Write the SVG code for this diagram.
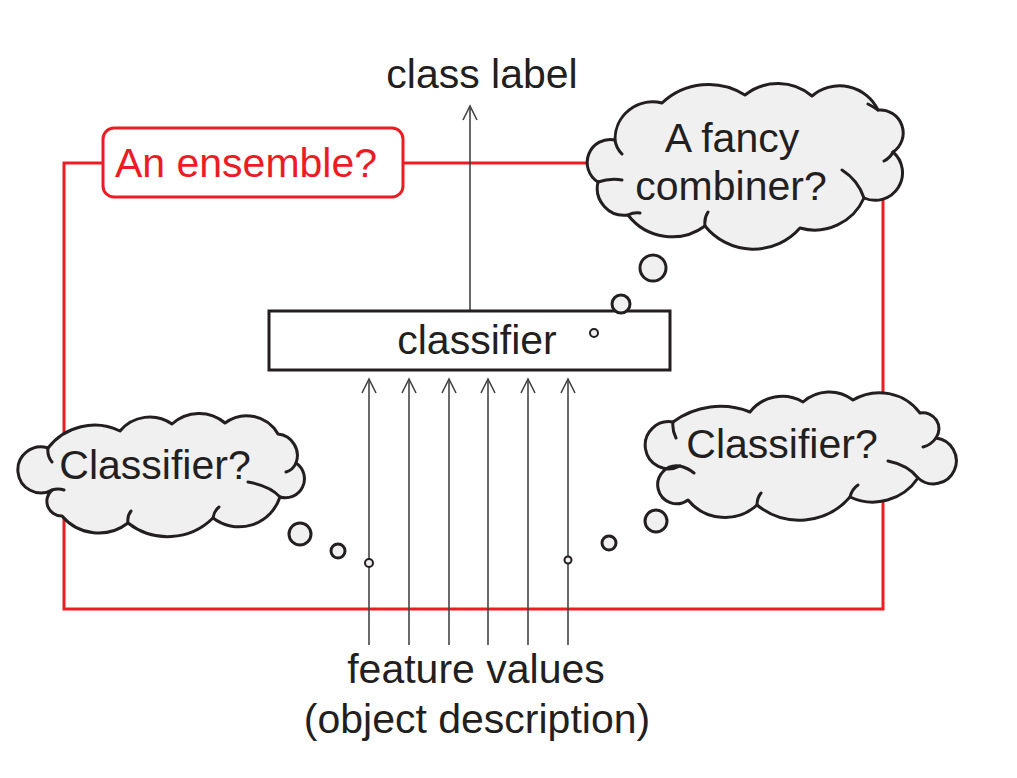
<svg xmlns="http://www.w3.org/2000/svg" width="1017" height="778" viewBox="0 0 1017 778">
<style>
text{font-family:"Liberation Sans",Arial,Helvetica,sans-serif;font-size:41px;fill:#231f20;text-anchor:middle}
.red{fill:none;stroke:#ed1c24;stroke-width:3}
.cloud{fill:#f0f0f0;stroke:#231f20;stroke-width:3;stroke-linejoin:round}
.curl{fill:none;stroke:#231f20;stroke-width:3;stroke-linecap:round}
.bub{fill:#f0f0f0;stroke:#231f20;stroke-width:3}
.bubs{fill:#f0f0f0;stroke:#231f20;stroke-width:2}
.arrow{stroke:#444;stroke-width:1.6;fill:none;marker-end:url(#arr)}
</style>
<defs>
<marker id="arr" markerUnits="userSpaceOnUse" orient="auto" refX="0" refY="0" markerWidth="20" markerHeight="20" overflow="visible">
<path d="M-14,-7 L0,0 L-14,7" fill="none" stroke="#444" stroke-width="1.6"/>
</marker>
</defs>
<rect width="1017" height="778" fill="#ffffff"/>

<g id="ensemble-frame">
<rect class="red" x="64" y="163" width="819" height="446"/>
</g>

<g id="connectors">
<line class="arrow" x1="470" y1="310" x2="470" y2="106"/>
<line class="arrow" x1="369" y1="645" x2="369" y2="379"/>
<line class="arrow" x1="409" y1="645" x2="409" y2="379"/>
<line class="arrow" x1="449" y1="645" x2="449" y2="379"/>
<line class="arrow" x1="488" y1="645" x2="488" y2="379"/>
<line class="arrow" x1="528" y1="645" x2="528" y2="379"/>
<line class="arrow" x1="568" y1="645" x2="568" y2="379"/>
</g>

<g id="ensemble-label">
<rect x="103" y="128" width="300" height="69" rx="11" fill="#ffffff" stroke="#ed1c24" stroke-width="3"/>
<text x="246" y="177" style="fill:#ed1c24">An ensemble?</text>
</g>

<g id="class-label">
<text x="482" y="88">class label</text>
</g>

<g id="classifier">
<rect x="269" y="311" width="401" height="59" fill="#ffffff" stroke="#231f20" stroke-width="3"/>
<text x="477" y="354">classifier</text>
</g>

<g id="features">
<text x="476" y="683">feature values</text>
<text x="477" y="733">(object description)</text>
</g>

<g id="cloud-combiner">
<path class="cloud" d="M615,140 A37.5,37.5 0 0 1 662,103 A68,68 0 0 1 745,95 A53,53 0 0 1 812,96 A42.5,42.5 0 0 1 878,110 A23,23 0 0 1 893,152 A27.5,27.5 0 0 1 864,198 A54,54 0 0 1 800,228 A62,62 0 0 1 705,226 A55.5,55.5 0 0 1 628,215 A27,27 0 0 1 598,182 A23,23 0 0 1 615,140 Z"/>
<path class="curl" d="M893,152 Q890,158 884,161 M864,198 Q858,180 842,170 M705,226 Q704,218 708,212 M598,182 Q610,178 622,180 M615,140 Q616,148 622,154 M878,110 Q872,106 868,104 M628,215 Q634,212 640,213"/>
<text x="732" y="152">A fancy</text>
<text x="731" y="200">combiner?</text>
<circle class="bub" cx="653" cy="268" r="13"/>
<circle class="bub" cx="621" cy="304" r="9"/>
<circle class="bubs" cx="594" cy="333" r="4"/>
</g>

<g id="cloud-left">
<path class="cloud" d="M48,448 A58.6,58.6 0 0 1 120,431 A38.8,38.8 0 0 1 172,424 A40,40 0 0 1 225,423 A36,36 0 0 1 278,434 A21.6,21.6 0 0 1 296,463 A19,19 0 0 1 280,497 A43,43 0 0 1 213,518 A64.4,64.4 0 0 1 128,523 A48,48 0 0 1 62,516 A14.8,14.8 0 0 1 52,490 A23,23 0 1 1 48,448 Z"/>
<path class="curl" d="M296,463 Q293,470 286,472 M280,497 Q270,486 248,482 M128,523 Q127,516 131,511 M213,518 Q214,511 219,507 M52,490 Q58,488 64,490 M48,448 Q47,456 52,462"/>
<text x="155" y="479">Classifier?</text>
<circle class="bub" cx="300" cy="534" r="11"/>
<circle class="bub" cx="338" cy="551" r="7"/>
<circle class="bubs" cx="369" cy="563" r="4"/>
</g>

<g id="cloud-right">
<path class="cloud" d="M673,422 A80,80 0 0 1 750,412 A41,41 0 0 1 803,402 A39,39 0 0 1 853,400 A51,51 0 0 1 920,413 A16,16 0 0 1 936,438 A23,23 0 1 1 918,478 A54.4,54.4 0 0 1 850,497 A66.8,66.8 0 0 1 757,505 A47.6,47.6 0 0 1 688,500 A19,19 0 1 1 680,466 A23.6,23.6 0 1 1 673,422 Z"/>
<path class="curl" d="M936,438 Q931,445 923,447 M918,478 Q908,465 888,461 M680,466 Q688,468 694,473 M673,422 Q672,430 676,438 M757,505 Q757,498 761,493 M850,497 Q852,489 858,485"/>
<text x="782" y="458">Classifier?</text>
<circle class="bub" cx="656" cy="521" r="11"/>
<circle class="bub" cx="609" cy="543" r="7"/>
<circle class="bubs" cx="568" cy="560" r="3.5"/>
</g>
</svg>
